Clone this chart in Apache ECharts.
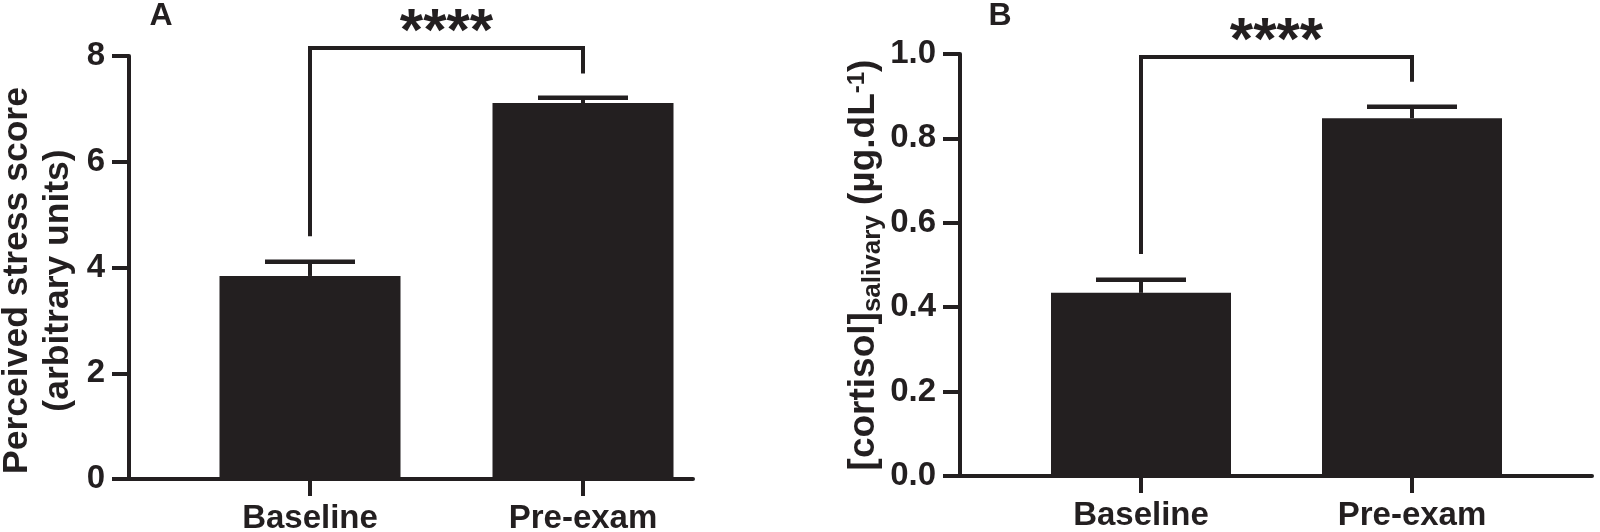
<!DOCTYPE html>
<html>
<head>
<meta charset="utf-8">
<script src="https://cdn.jsdelivr.net/npm/echarts@6/dist/echarts.min.js"></script>
<style>
  html, body { margin: 0; padding: 0; background: #fff; }
  #chart { width: 1600px; height: 532px; }
</style>
</head>
<body>
<div id="chart"></div>
<script>
// values
const categories = ['Baseline', 'Pre-exam'];
const stressMean = [3.84, 7.11];
const stressErr = [0.27, 0.10];
const cortisolMean = [0.434, 0.848];
const cortisolErr = [0.031, 0.027];
const stressTicks = [0, 2, 4, 6, 8];
const cortisolTicks = [0, 0.2, 0.4, 0.6, 0.8, 1.0];
// bracket: left leg end, top, right leg end
const stressBracket = [4.59, 8.15, 7.67];
const cortisolBracket = [0.526, 0.993, 0.934];
const sigLabel = '****';

const INK = '#231f20';
const FONT = '"Liberation Sans", Arial, sans-serif';

const chart = echarts.init(document.getElementById('chart'), null, { renderer: 'canvas' });

function xAxisFor(gridIndex, min, max) {
    return {
        type: 'value', gridIndex, min, max,
        splitLine: { show: false },
        axisLine: { onZero: false, lineStyle: { color: INK, width: 4 } },
        axisTick: { show: true, customValues: [1, 2], length: 17, lineStyle: { color: INK, width: 4 } },
        axisLabel: {
            customValues: [1, 2], margin: 23,
            color: INK, fontFamily: FONT, fontWeight: 'bold', fontSize: 33,
            formatter: v => categories[Math.round(v) - 1]
        }
    };
}

function yAxisFor(gridIndex, ticks, digits, name, nameGap, nameStyle) {
    return {
        type: 'value', gridIndex,
        min: ticks[0], max: ticks[ticks.length - 1], interval: ticks[1] - ticks[0],
        splitLine: { show: false },
        axisLine: { show: true, onZero: false, lineStyle: { color: INK, width: 4 } },
        axisTick: { show: true, length: 17, lineStyle: { color: INK, width: 4 } },
        axisLabel: {
            margin: 24, color: INK, fontFamily: FONT, fontWeight: 'bold', fontSize: 33,
            formatter: v => v.toFixed(digits)
        },
        name, nameLocation: 'middle', nameRotate: 90, nameGap,
        nameTextStyle: nameStyle
    };
}

function barsFor(idx, means, width) {
    return {
        type: 'bar', xAxisIndex: idx, yAxisIndex: idx,
        barWidth: width,
        itemStyle: { color: INK },
        data: means.map((m, i) => [i + 1, m]),
        z: 2
    };
}

function errorsFor(idx, means, errs) {
    return {
        type: 'custom', xAxisIndex: idx, yAxisIndex: idx,
        data: means.map((m, i) => [i + 1, m, m + errs[i]]),
        renderItem: (params, api) => {
            const base = api.coord([api.value(0), api.value(1)]);
            const top = api.coord([api.value(0), api.value(2)]);
            return {
                type: 'group',
                children: [
                    { type: 'line', shape: { x1: base[0], y1: base[1], x2: top[0], y2: top[1] },
                      style: { stroke: INK, lineWidth: 4 } },
                    { type: 'line', shape: { x1: top[0] - 45, y1: top[1], x2: top[0] + 45, y2: top[1] },
                      style: { stroke: INK, lineWidth: 4.5 } }
                ]
            };
        },
        z: 3
    };
}

function bracketFor(idx, bracket) {
    return {
        type: 'custom', xAxisIndex: idx, yAxisIndex: idx,
        data: [bracket],
        renderItem: (params, api) => {
            const p1 = api.coord([1, api.value(0)]);
            const p2 = api.coord([1, api.value(1)]);
            const p3 = api.coord([2, api.value(1)]);
            const p4 = api.coord([2, api.value(2)]);
            return {
                type: 'group',
                children: [
                    { type: 'polyline', shape: { points: [p1, p2, p3, p4] },
                      style: { stroke: INK, lineWidth: 4, fill: null } },
                    { type: 'text', x: (p2[0] + p3[0]) / 2, y: p2[1] - 15,
                      style: { text: sigLabel, fill: INK, font: 'bold 60px ' + FONT,
                               align: 'center', verticalAlign: 'middle',
                               textAlign: 'center', textVerticalAlign: 'middle' } }
                ]
            };
        },
        z: 4
    };
}

const titleStyle = {
    color: INK, fontFamily: FONT, fontWeight: 'bold', fontSize: 35.5, lineHeight: 41,
    padding: [0, 26, 0, 0]
};
const cortisolName = '{m|[cortisol]}{sub|salivary}{m| (µg.dL}{sup|-1}{m|)}';
const cortisolStyle = {
    color: INK, fontFamily: FONT, fontWeight: 'bold', fontSize: 37,
    rich: {
        m: { color: INK, fontFamily: FONT, fontWeight: 'bold', fontSize: 37, lineHeight: 37, verticalAlign: 'top' },
        sub: { color: INK, fontFamily: FONT, fontWeight: 'bold', fontSize: 26, lineHeight: 26, verticalAlign: 'top', padding: [15, 0, 0, 0] },
        sup: { color: INK, fontFamily: FONT, fontWeight: 'bold', fontSize: 24, lineHeight: 24, verticalAlign: 'top' }
    }
};

chart.setOption({
    animation: false,
    backgroundColor: '#fff',
    grid: [
        { left: 129, right: 1600 - 693, top: 56, bottom: 532 - 479, outerBoundsMode: 'none', containLabel: false },
        { left: 960, right: 8, top: 54, bottom: 532 - 476, outerBoundsMode: 'none', containLabel: false }
    ],
    xAxis: [
        xAxisFor(0, 1 - 181 / 273, 2 + 110 / 273),
        xAxisFor(1, 1 - 181 / 271, 2 + 180 / 271)
    ],
    yAxis: [
        yAxisFor(0, stressTicks, 0, 'Perceived stress score\n(arbitrary units)', 50, titleStyle),
        yAxisFor(1, cortisolTicks, 1, cortisolName, 67, cortisolStyle)
    ],
    graphic: [
        { type: 'text', x: 161, y: 16, style: { text: 'A', fill: INK, font: 'bold 32px ' + FONT,
          align: 'center', verticalAlign: 'middle', textAlign: 'center', textVerticalAlign: 'middle' } },
        { type: 'text', x: 1000, y: 16, style: { text: 'B', fill: INK, font: 'bold 32px ' + FONT,
          align: 'center', verticalAlign: 'middle', textAlign: 'center', textVerticalAlign: 'middle' } }
    ],
    series: [
        barsFor(0, stressMean, 181),
        errorsFor(0, stressMean, stressErr),
        bracketFor(0, stressBracket),
        barsFor(1, cortisolMean, 180),
        errorsFor(1, cortisolMean, cortisolErr),
        bracketFor(1, cortisolBracket)
    ]
});
</script>
</body>
</html>
